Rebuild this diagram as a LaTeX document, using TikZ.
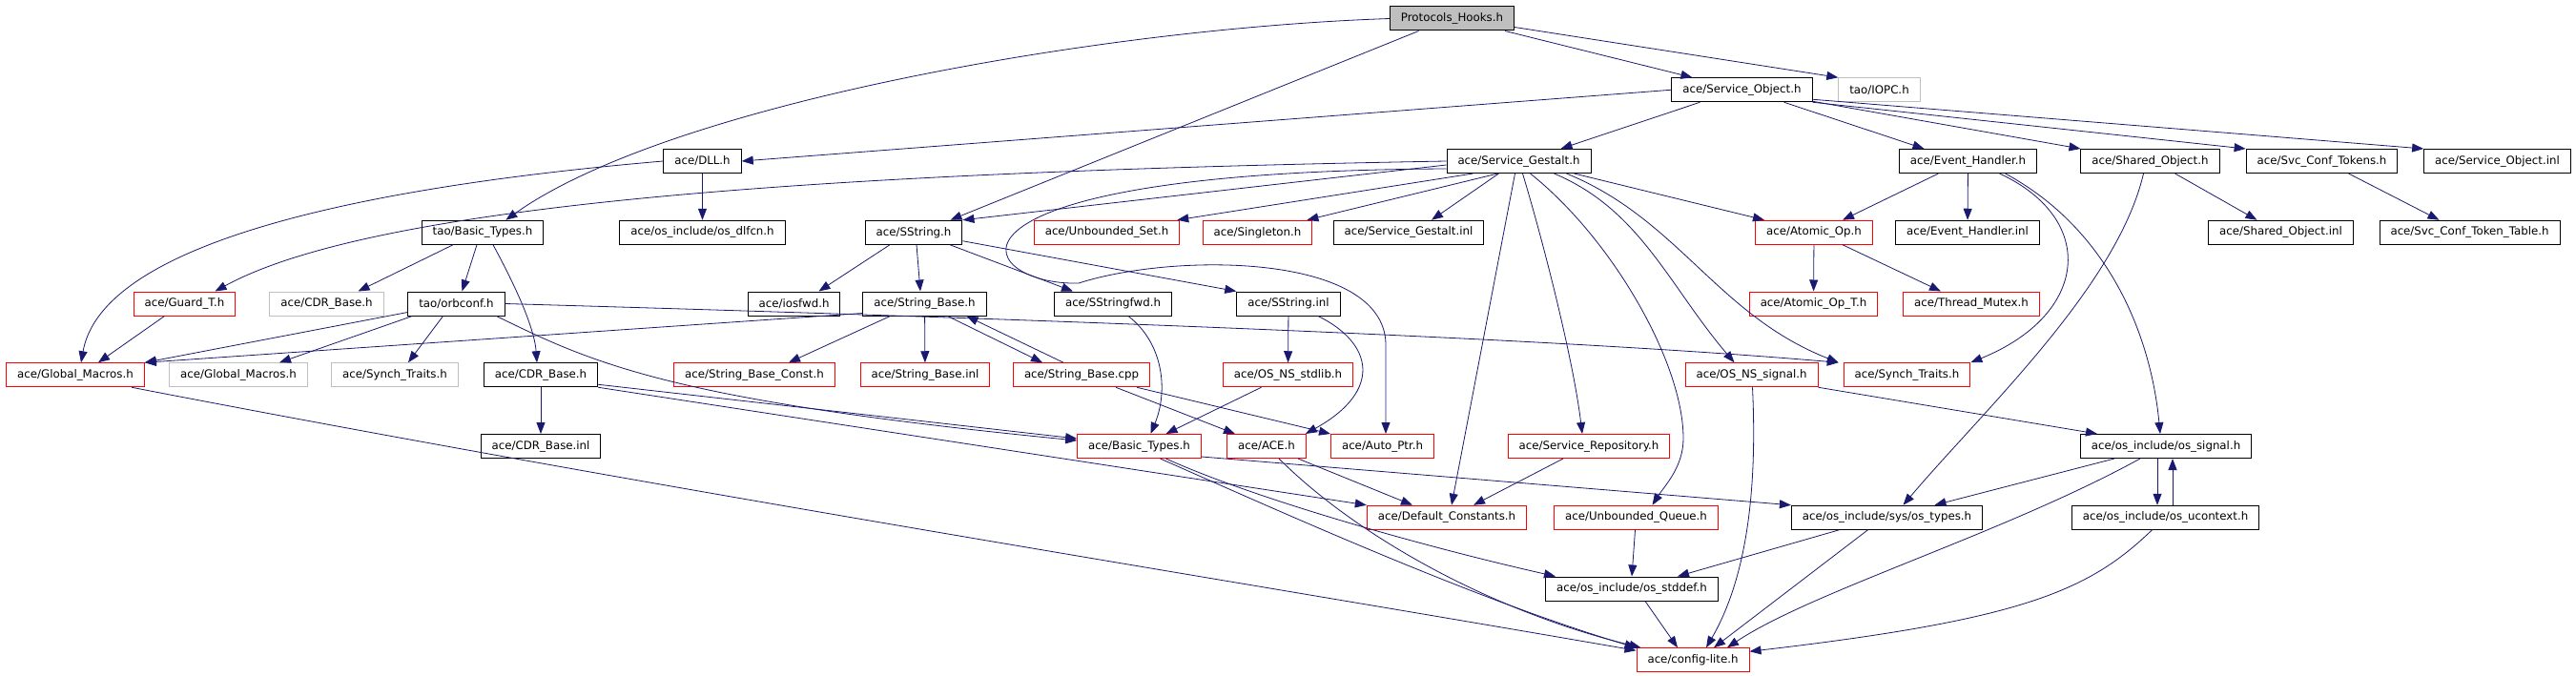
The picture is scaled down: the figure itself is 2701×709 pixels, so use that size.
\documentclass[tikz,border=0pt]{standalone}
\usepackage{fontspec}
\setmainfont{DejaVu Sans}
\usepackage{tikz}
\usetikzlibrary{arrows.meta}
\definecolor{edgeblue}{HTML}{191970}
\definecolor{missgray}{HTML}{BFBFBF}
\newcommand{\HF}{\fontsize{11.8}{14}\selectfont}

\begin{document}
\begin{tikzpicture}[x=1pt, y=-1pt,
    file/.style={draw=black, rectangle, line width=1pt, minimum height=25pt,
      inner xsep=11.5pt, inner ysep=0pt, font=\HF},
    trunc/.style={file, draw=red},
    miss/.style={file, draw=missgray},
    root/.style={file, fill=missgray},
    dep/.style={draw=edgeblue, line width=0.8pt, -{Triangle[length=12pt,width=9pt]}}]

  \newcommand\Dy{74.75}
  \useasboundingbox (0,0) rectangle (2701,709);

  %% row 0 and 1
  \node[root] (ph) at (1522.5, 19.5+0*\Dy) {Protocols\_Hooks.h};
  \node[file] (so) at (1826.5, 19.5+1*\Dy) {ace/Service\_Object.h};
  \node[miss] (iopc) at (1970.5, 19.5+1*\Dy) {tao/IOPC.h};

  %% row 2
  \node[file] (dll) at (736.5, 19.5+2*\Dy) {ace/DLL.h};
  \node[file] (sg) at (1592.5, 19.5+2*\Dy) {ace/Service\_Gestalt.h};
  \node[file] (eh) at (2063.5, 19.5+2*\Dy) {ace/Event\_Handler.h};
  \node[file] (sho) at (2254.5, 19.5+2*\Dy) {ace/Shared\_Object.h};
  \node[file] (sct) at (2434.5, 19.5+2*\Dy) {ace/Svc\_Conf\_Tokens.h};
  \node[file] (soinl) at (2618.5, 19.5+2*\Dy) {ace/Service\_Object.inl};

  %% row 3
  \node[file] (taobt) at (506, 19.5+3*\Dy) {tao/Basic\_Types.h};
  \node[file] (dlfcn) at (736.5, 19.5+3*\Dy) {ace/os\_include/os\_dlfcn.h};
  \node[file] (ss) at (958, 19.5+3*\Dy) {ace/SString.h};
  \node[trunc] (uset) at (1160.5, 19.5+3*\Dy) {ace/Unbounded\_Set.h};
  \node[trunc] (single) at (1318.5, 19.5+3*\Dy) {ace/Singleton.h};
  \node[file] (sginl) at (1477, 19.5+3*\Dy) {ace/Service\_Gestalt.inl};
  \node[trunc] (aop) at (1902, 19.5+3*\Dy) {ace/Atomic\_Op.h};
  \node[file] (ehinl) at (2063, 19.5+3*\Dy) {ace/Event\_Handler.inl};
  \node[file] (shoinl) at (2391.5, 19.5+3*\Dy) {ace/Shared\_Object.inl};
  \node[file] (sctt) at (2589.5, 19.5+3*\Dy) {ace/Svc\_Conf\_Token\_Table.h};

  %% row 4
  \node[trunc] (guard) at (193.5, 19.5+4*\Dy) {ace/Guard\_T.h};
  \node[miss] (cdrg) at (342.5, 19.5+4*\Dy) {ace/CDR\_Base.h};
  \node[file] (orb) at (478.5, 19.5+4*\Dy) {tao/orbconf.h};
  \node[file] (iosfwd) at (832.5, 19.5+4*\Dy) {ace/iosfwd.h};
  \node[file] (sb) at (969.5, 19.5+4*\Dy) {ace/String\_Base.h};
  \node[file] (ssfwd) at (1167, 19.5+4*\Dy) {ace/SStringfwd.h};
  \node[file] (ssinl) at (1351, 19.5+4*\Dy) {ace/SString.inl};
  \node[trunc] (aopt) at (1901.5, 19.5+4*\Dy) {ace/Atomic\_Op\_T.h};
  \node[trunc] (tmx) at (2067, 19.5+4*\Dy) {ace/Thread\_Mutex.h};

  %% row 5
  \node[trunc] (gm) at (79, 19.5+5*\Dy) {ace/Global\_Macros.h};
  \node[miss] (gmg) at (250, 19.5+5*\Dy) {ace/Global\_Macros.h};
  \node[miss] (stg) at (414, 19.5+5*\Dy) {ace/Synch\_Traits.h};
  \node[file] (cdr) at (567, 19.5+5*\Dy) {ace/CDR\_Base.h};
  \node[trunc] (sbc) at (791, 19.5+5*\Dy) {ace/String\_Base\_Const.h};
  \node[trunc] (sbinl) at (970, 19.5+5*\Dy) {ace/String\_Base.inl};
  \node[trunc] (sbcpp) at (1134, 19.5+5*\Dy) {ace/String\_Base.cpp};
  \node[trunc] (stdlib) at (1350.5, 19.5+5*\Dy) {ace/OS\_NS\_stdlib.h};
  \node[trunc] (nssig) at (1836.5, 19.5+5*\Dy) {ace/OS\_NS\_signal.h};
  \node[trunc] (st) at (1999.5, 19.5+5*\Dy) {ace/Synch\_Traits.h};

  %% row 6
  \node[file] (cdrinl) at (567, 19.5+6*\Dy) {ace/CDR\_Base.inl};
  \node[trunc] (bt) at (1194.5, 19.5+6*\Dy) {ace/Basic\_Types.h};
  \node[trunc] (ace) at (1328, 19.5+6*\Dy) {ace/ACE.h};
  \node[trunc] (aptr) at (1449.5, 19.5+6*\Dy) {ace/Auto\_Ptr.h};
  \node[trunc] (srep) at (1666, 19.5+6*\Dy) {ace/Service\_Repository.h};
  \node[file] (ossig) at (2271, 19.5+6*\Dy) {ace/os\_include/os\_signal.h};

  %% row 7 to 9
  \node[trunc] (dc) at (1517, 19.5+7*\Dy) {ace/Default\_Constants.h};
  \node[trunc] (uq) at (1715.5, 19.5+7*\Dy) {ace/Unbounded\_Queue.h};
  \node[file] (ost) at (1978.5, 19.5+7*\Dy) {ace/os\_include/sys/os\_types.h};
  \node[file] (uctx) at (2270.5, 19.5+7*\Dy) {ace/os\_include/os\_ucontext.h};
  \node[file] (stddef) at (1711, 19.5+8*\Dy) {ace/os\_include/os\_stddef.h};
  \node[trunc] (cfg) at (1775, 19.5+9*\Dy) {ace/config-lite.h};

  %% Protocols_Hooks.h
  \draw[dep] ([yshift=4pt]ph.south east) -- (iopc.north west); %% ph->iopc
  \draw[dep] ([xshift=-10pt]ph.south east) -- ([xshift=22pt]so.north west); %% ph->so
  \draw[dep] ([xshift=-35pt]ph.south) -- ([xshift=-13pt]ss.north east); %% ph->ss
  \draw[dep] (ph.west) .. controls (1150,30) and (700,110) .. ([xshift=-40pt]taobt.north east); %% ph->taobt

  %% ace/Service_Object.h
  \draw[dep] (so.west) -- (dll.east);
  \draw[dep] ([xshift=30pt]so.south west) -- ([xshift=44pt]sg.north);
  \draw[dep] ([xshift=-30pt]so.south east) -- ([xshift=-46pt]eh.north);
  \draw[dep] ([yshift=1pt]so.south east) -- (sho.north west);
  \draw[dep] (so.south east) -- (sct.north west);
  \draw[dep] ([yshift=3pt]so.south east) -- (soinl.north west);

  %% ace/DLL.h
  \draw[dep] (dll) -- (dlfcn);
  \draw[dep] (dll.west) .. controls (450,190) and (110,240) .. ([xshift=6pt]gm.north);

  %% ace/Service_Gestalt.h
  \draw[dep] (sg.west) .. controls (900,180) and (400,210) .. ([xshift=32pt]guard.north);
  \draw[dep] ([yshift=-4pt]sg.west) -- (ss.north east);
  \draw[dep] ([yshift=-8pt]sg.west) .. controls (950,180) and (1020,300) .. (1131,297)
    .. controls (1230,265) and (1450,265) .. (1453,360) -- ([xshift=3.5pt]aptr.north);
  \draw[dep] ([xshift=-48pt]sg.south) -- ([xshift=-3pt]uset.north east);
  \draw[dep] ([xshift=-22pt]sg.south) -- ([xshift=-6pt]single.north east);
  \draw[dep] ([xshift=-21pt]sg.south) -- ([xshift=24pt]sginl.north);
  \draw[dep] ([xshift=-4pt]sg.south) -- ([xshift=5pt]dc.north);
  \draw[dep] ([xshift=4pt]sg.south) .. controls (1620,260) and (1650,380) .. ([xshift=-7pt]srep.north);
  \draw[dep] ([xshift=12pt]sg.south) .. controls (1690,250) and (1765,380) .. (1765,460)
    .. controls (1765,490) and (1745,510) .. ([xshift=17pt]uq.north);
  \draw[dep] ([xshift=37pt]sg.south) .. controls (1720,220) and (1750,300) .. ([xshift=-18pt]nssig.north);
  \draw[dep] ([xshift=50pt]sg.south) .. controls (1760,230) and (1800,330) .. ([xshift=-5pt]st.north west);
  \draw[dep] ([xshift=58pt]sg.south) -- ([xshift=-52pt]aop.north);

  %% ace/Event_Handler.h, ace/Shared_Object.h, ace/Svc_Conf_Tokens.h
  \draw[dep] ([xshift=-31pt]eh.south) -- ([xshift=30pt]aop.north);
  \draw[dep] (eh) -- (ehinl);
  \draw[dep] ([xshift=33pt]eh.south) .. controls (2200,230) and (2190,330) .. (st.north east);
  \draw[dep] ([xshift=39pt]eh.south) .. controls (2210,240) and (2255,350) .. ([xshift=-6pt]ossig.north);
  \draw[dep] ([xshift=26pt]sho.south) -- ([xshift=-25pt]shoinl.north);
  \draw[dep] ([xshift=-7pt]sho.south) .. controls (2220,300) and (2080,430) .. ([xshift=17pt]ost.north);
  \draw[dep] ([xshift=28pt]sct.south) -- ([xshift=-32pt]sctt.north);
  \draw[dep] (aop) -- (aopt);
  \draw[dep] ([xshift=30pt]aop.south) -- ([xshift=-32pt]tmx.north);

  %% ace/SString.h
  \draw[dep] ([xshift=-25pt]ss.south) -- ([xshift=26pt]iosfwd.north);
  \draw[dep] ([xshift=3pt]ss.south) -- ([xshift=-4.5pt]sb.north);
  \draw[dep] ([xshift=38pt]ss.south) -- ([xshift=-42pt]ssfwd.north);
  \draw[dep] ([yshift=4pt]ss.south east) -- (ssinl.north west);

  %% tao/Basic_Types.h, ace/Guard_T.h, tao/orbconf.h
  \draw[dep] ([xshift=-31pt]taobt.south) -- ([xshift=33pt]cdrg.north);
  \draw[dep] ([xshift=-6pt]taobt.south) -- ([xshift=6pt]orb.north);
  \draw[dep] ([xshift=11pt]taobt.south) .. controls (535,290) and (560,340) .. ([xshift=-4pt]cdr.north);
  \draw[dep] ([xshift=-21pt]guard.south) -- ([xshift=24pt]gm.north);
  \draw[dep] ([yshift=4pt]orb.south west) -- (gm.north east);
  \draw[dep] ([xshift=5pt]orb.south west) -- ([xshift=43pt]gmg.north);
  \draw[dep] ([xshift=-14pt]orb.south) -- ([xshift=14pt]stg.north);
  \draw[dep] ([xshift=42pt]orb.south) .. controls (620,380) and (700,420) .. ([yshift=6pt]bt.west);
  \draw[dep] (orb.east) .. controls (1000,332) and (1600,352) .. ([xshift=-5pt]st.north west);

  %% ace/String_Base.h and friends
  \draw[dep] ([yshift=3pt]sb.south west) -- (gm.north east);
  \draw[dep] ([xshift=-36pt]sb.south) -- ([xshift=36pt]sbc.north);
  \draw[dep] (sb) -- (sbinl);
  \draw[dep] ([xshift=24pt]sb.south) -- ([xshift=-41pt]sbcpp.north);
  \draw[dep] ([xshift=-19pt]sbcpp.north) -- ([xshift=44pt]sb.south);
  \draw[dep] ([xshift=36pt]sbcpp.south) -- ([xshift=-33pt]ace.north);
  \draw[dep] ([xshift=58pt]sbcpp.south) -- (aptr.north west);
  \draw[dep] ([xshift=16pt]ssfwd.south) .. controls (1220,360) and (1225,410) .. ([xshift=12pt]bt.north);
  \draw[dep] (ssinl) -- (stdlib);
  \draw[dep] ([xshift=31pt]ssinl.south) .. controls (1440,360) and (1450,410) .. ([xshift=-1pt]ace.north east);
  \draw[dep] ([xshift=-28pt]stdlib.south) -- ([xshift=28pt]bt.north);

  %% ace/CDR_Base.h, ace/Global_Macros.h
  \draw[dep] (cdr) -- (cdrinl);
  \draw[dep] ([yshift=3pt]cdr.south east) -- ([yshift=8pt]bt.west);
  \draw[dep] (cdr.south east) -- (dc.north west);
  \draw[dep] ([xshift=59pt]gm.south) .. controls (700,515) and (1300,610) .. ([yshift=-3pt]cfg.north west);

  %% ace/Basic_Types.h, ace/ACE.h and the lower rows
  \draw[dep] ([xshift=22pt]bt.south) .. controls (1350,540) and (1550,630) .. (cfg.north west);
  \draw[dep] ([xshift=28pt]bt.south) .. controls (1320,525) and (1500,575) .. ([xshift=-80pt]stddef.north);
  \draw[dep] ([yshift=2pt]bt.south east) -- (ost.north west);
  \draw[dep] ([xshift=33pt]ace.south) -- ([xshift=-36pt]dc.north);
  \draw[dep] ([xshift=13pt]ace.south) .. controls (1420,560) and (1560,640) .. ([xshift=5pt]cfg.north west);
  \draw[dep] ([xshift=-27pt]srep.south) -- ([xshift=28pt]dc.north);
  \draw[dep] ([xshift=-1pt]uq.south) -- (stddef.north);
  \draw[dep] ([xshift=14pt]stddef.south) -- ([xshift=-16pt]cfg.north);

  %% signals and types
  \draw[dep] (nssig.south east) -- ([xshift=-72pt]ossig.north);
  \draw[dep] ([xshift=1pt]nssig.south) .. controls (1842,500) and (1835,600) .. ([xshift=14pt]cfg.north);
  \draw[dep] ([xshift=-54pt]ossig.south) -- ([xshift=50pt]ost.north);
  \draw[dep] ([xshift=-27pt]ossig.south) .. controls (2100,560) and (1900,620) .. ([xshift=36pt]cfg.north);
  \draw[dep] ([xshift=-9pt]ossig.south) -- ([xshift=-8.5pt]uctx.north);
  \draw[dep] ([xshift=7.5pt]uctx.north) -- ([xshift=7pt]ossig.south);
  \draw[dep] ([xshift=-14pt]uctx.south) .. controls (2190,620) and (2120,650) .. ([yshift=9pt]cfg.east);
  \draw[dep] ([xshift=-50pt]ost.south) -- ([xshift=48pt]stddef.north);
  \draw[dep] ([xshift=-20pt]ost.south) -- ([xshift=22pt]cfg.north);
\end{tikzpicture}
\end{document}
